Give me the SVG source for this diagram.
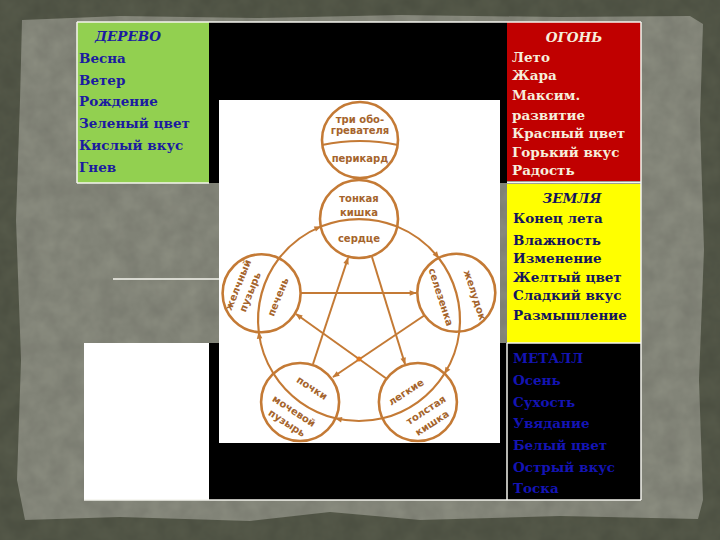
<svg xmlns="http://www.w3.org/2000/svg" width="720" height="540" viewBox="0 0 720 540">
  <style>
    .cell-txt { font-family: "DejaVu Serif", "Liberation Serif", serif; font-size: 13.5px; font-weight: bold; }
    .title { font-weight: bold; font-style: italic; }
    .wood { fill: #1b1ba0; }
    .fire { fill: #f6eedc; }
    .earth { fill: #14145e; }
    .metal { fill: #1414b4; font-weight: bold; }
    .org { fill: none; stroke: #c47a35; stroke-width: 2.6; }
    .div { fill: none; stroke: #c47a35; stroke-width: 2.2; }
    .lbl { font-family: "DejaVu Sans", "Liberation Sans", sans-serif; font-size: 10px; font-weight: bold; fill: #a5642c; text-anchor: middle; }
    .con { fill: none; stroke: #c47a35; stroke-width: 2; }
    .border { fill: none; stroke: #f4f4ee; stroke-width: 1.5; }
  </style>
  <defs>
    <marker id="ah" viewBox="0 0 10 10" refX="9" refY="5" markerWidth="9" markerHeight="7" orient="auto" markerUnits="userSpaceOnUse">
      <path d="M0,1 L10,5 L0,9 z" fill="#c47a35"/>
    </marker>
    <filter id="grain" x="0" y="0" width="100%" height="100%">
      <feTurbulence type="fractalNoise" baseFrequency="0.05" numOctaves="3" seed="4"/>
      <feColorMatrix type="matrix" values="0 0 0 0 0  0 0 0 0 0  0 0 0 0 0  0 0 0 0.16 0"/>
      <feComposite in2="SourceGraphic" operator="in"/>
    </filter>
  </defs>

  <!-- background -->
  <rect x="0" y="0" width="720" height="540" fill="#575b4b"/>
  <path d="M22,20 L120,16 L260,18 L400,15 L560,17 L690,16 L703,24 L700,120 L704,250 L699,380 L703,500 L698,519 L560,516 L420,520 L330,512 L250,521 L120,517 L25,520 L17,480 L21,360 L16,220 L20,100 Z" fill="#8d8f82"/>
  <rect x="0" y="0" width="720" height="540" filter="url(#grain)" fill="#000"/>

  <!-- table cells -->
  <g id="table">
    <rect x="209" y="22" width="298" height="161" fill="#000"/>
    <rect x="209" y="343" width="298" height="157" fill="#000"/>
    <rect x="77" y="22" width="132" height="161" fill="#92d050"/>
    <rect x="507" y="22" width="134" height="159" fill="#c00000"/>
    <rect x="507" y="184" width="134" height="159" fill="#ffff00"/>
    <rect x="507" y="343" width="134" height="157" fill="#000"/>
    <rect x="84" y="343" width="125" height="157" fill="#fff"/>
    <line x1="77" y1="22" x2="641" y2="22" class="border"/>
    <line x1="77" y1="22" x2="77" y2="183" class="border"/>
    <line x1="77" y1="183" x2="209" y2="183" class="border"/>
    <line x1="641" y1="22" x2="641" y2="500" class="border"/>
    <line x1="507" y1="182.5" x2="641" y2="182.5" class="border"/>
    <line x1="507" y1="343" x2="641" y2="343" class="border"/>
    <line x1="507" y1="343" x2="507" y2="500" class="border"/>
    <line x1="84" y1="500" x2="641" y2="500" class="border"/>
    <line x1="113" y1="279" x2="219" y2="279" stroke="#f4f4ee" stroke-width="1.5"/>
  </g>

  <g id="wood">
    <text class="cell-txt title wood" x="128" y="41" text-anchor="middle">ДЕРЕВО</text>
    <text class="cell-txt wood" x="79" y="63">Весна</text>
    <text class="cell-txt wood" x="79" y="85">Ветер</text>
    <text class="cell-txt wood" x="79" y="106">Рождение</text>
    <text class="cell-txt wood" x="79" y="128">Зеленый цвет</text>
    <text class="cell-txt wood" x="79" y="150">Кислый вкус</text>
    <text class="cell-txt wood" x="79" y="172">Гнев</text>
  </g>

  <g id="fire">
    <text class="cell-txt title fire" x="574" y="42" text-anchor="middle">ОГОНЬ</text>
    <text class="cell-txt fire" x="512" y="62">Лето</text>
    <text class="cell-txt fire" x="512" y="80">Жара</text>
    <text class="cell-txt fire" x="512" y="100">Максим.</text>
    <text class="cell-txt fire" x="512" y="120">развитие</text>
    <text class="cell-txt fire" x="512" y="138">Красный цвет</text>
    <text class="cell-txt fire" x="512" y="157">Горький вкус</text>
    <text class="cell-txt fire" x="512" y="175">Радость</text>
  </g>

  <g id="earth">
    <text class="cell-txt title earth" x="572" y="203" text-anchor="middle">ЗЕМЛЯ</text>
    <text class="cell-txt earth" x="513" y="223">Конец лета</text>
    <text class="cell-txt earth" x="513" y="245">Влажность</text>
    <text class="cell-txt earth" x="513" y="263">Изменение</text>
    <text class="cell-txt earth" x="513" y="282">Желтый цвет</text>
    <text class="cell-txt earth" x="513" y="300">Сладкий вкус</text>
    <text class="cell-txt earth" x="513" y="320">Размышление</text>
  </g>

  <g id="metal">
    <text class="cell-txt metal" x="513" y="363">МЕТАЛЛ</text>
    <text class="cell-txt metal" x="513" y="385">Осень</text>
    <text class="cell-txt metal" x="513" y="407">Сухость</text>
    <text class="cell-txt metal" x="513" y="428">Увядание</text>
    <text class="cell-txt metal" x="513" y="450">Белый цвет</text>
    <text class="cell-txt metal" x="513" y="472">Острый вкус</text>
    <text class="cell-txt metal" x="513" y="493">Тоска</text>
  </g>

  <!-- picture panel -->
  <rect id="picture" x="219" y="100" width="281" height="343" fill="#fff"/>

  <g id="connectors">
    <!-- generation cycle (outer circle) -->
    <path class="con" d="M279.0,258.4 A101,101 0 0 1 320.7,226.6" marker-end="url(#ah)"/>
    <path class="con" d="M397.3,226.6 A101,101 0 0 1 438.7,258.0" marker-end="url(#ah)"/>
    <path class="con" d="M459.3,331.8 A101,101 0 0 1 444.6,373.5" marker-end="url(#ah)"/>
    <path class="con" d="M382.4,418.3 A101,101 0 0 1 335.6,418.3" marker-end="url(#ah)"/>
    <path class="con" d="M273.4,373.5 A101,101 0 0 1 258.8,332.3" marker-end="url(#ah)"/>
    <!-- control cycle (star) -->
    <path class="con" d="M300,293 L416,293" marker-end="url(#ah)"/>
    <path class="con" d="M372,257 L405,364" marker-end="url(#ah)"/>
    <path class="con" d="M425,315 L333,377" marker-end="url(#ah)"/>
    <path class="con" d="M387,379 L296,314" marker-end="url(#ah)"/>
    <path class="con" d="M313,364 L348,258" marker-end="url(#ah)"/>
    <circle cx="359" cy="359" r="2.5" fill="#e07820"/>
  </g>

  <g id="node-heaters">
    <circle class="org" cx="360" cy="140" r="38"/>
    <path class="div" d="M322,145 Q360,137 398,145"/>
    <text class="lbl" x="360" y="123">три обо-</text>
    <text class="lbl" x="360" y="134">гревателя</text>
    <text class="lbl" x="360" y="162">перикард</text>
  </g>

  <g id="node-heart">
    <circle class="org" cx="359" cy="219" r="39"/>
    <path class="div" d="M320.7,226.6 A101,101 0 0 1 397.3,226.6"/>
    <text class="lbl" x="359" y="202">тонкая</text>
    <text class="lbl" x="359" y="216">кишка</text>
    <text class="lbl" x="359" y="242">сердце</text>
  </g>

  <g id="node-liver">
    <circle class="org" cx="261.6" cy="293.3" r="39"/>
    <path class="div" d="M258.8,332.3 A101,101 0 0 1 279.0,258.4"/>
    <text class="lbl" transform="translate(238,285) rotate(-68)" y="3.5">желчный</text>
    <text class="lbl" transform="translate(250,292) rotate(-68)" y="3.5">пузырь</text>
    <text class="lbl" transform="translate(278,297) rotate(-68)" y="3.5">печень</text>
  </g>

  <g id="node-spleen">
    <circle class="org" cx="456.3" cy="292.8" r="39"/>
    <path class="div" d="M438.7,258.0 A101,101 0 0 1 459.3,331.8"/>
    <text class="lbl" transform="translate(441,297) rotate(72)" y="3.5">селезенка</text>
    <text class="lbl" transform="translate(475,295) rotate(72)" y="3.5">желудок</text>
  </g>

  <g id="node-kidney">
    <circle class="org" cx="300.1" cy="402" r="39"/>
    <path class="div" d="M335.6,418.3 A101,101 0 0 1 273.4,373.5"/>
    <text class="lbl" transform="translate(312,388) rotate(33)" y="3.5">почки</text>
    <text class="lbl" transform="translate(294,411) rotate(33)" y="3.5">мочевой</text>
    <text class="lbl" transform="translate(287,423) rotate(33)" y="3.5">пузырь</text>
  </g>

  <g id="node-lungs">
    <circle class="org" cx="417.9" cy="402" r="39"/>
    <path class="div" d="M444.6,373.5 A101,101 0 0 1 382.4,418.3"/>
    <text class="lbl" transform="translate(406,392) rotate(-33)" y="3.5">легкие</text>
    <text class="lbl" transform="translate(426,410) rotate(-33)" y="3.5">толстая</text>
    <text class="lbl" transform="translate(432,423) rotate(-33)" y="3.5">кишка</text>
  </g>
</svg>
